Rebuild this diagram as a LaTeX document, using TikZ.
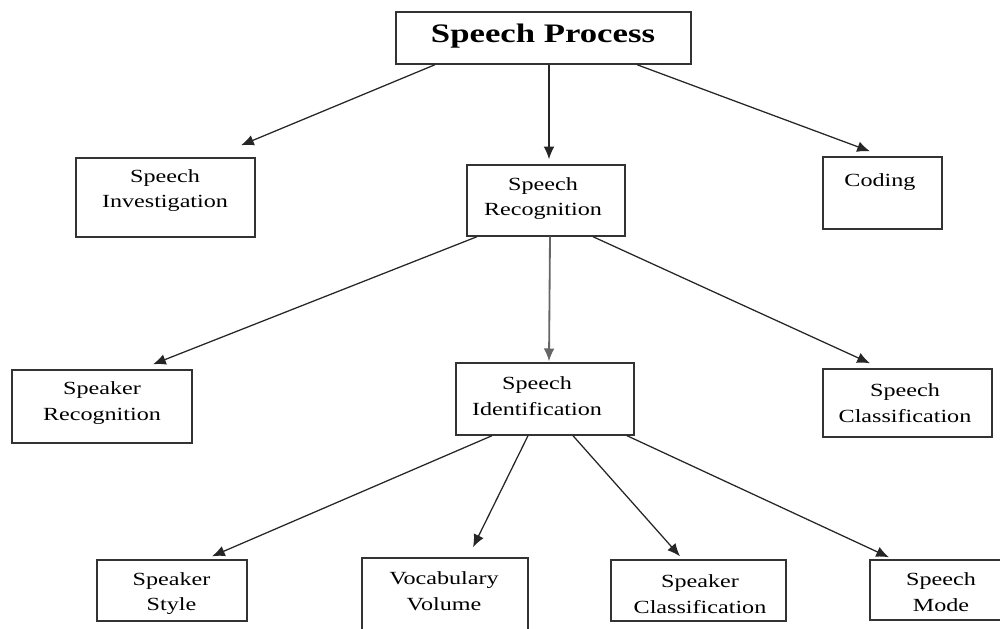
\documentclass[tikz,border=0pt]{standalone}
\usepackage{fontspec}
\setmainfont{Liberation Serif}[FakeStretch=1.3]
\usetikzlibrary{arrows.meta}
\begin{document}
\begin{tikzpicture}
	[box/.style={draw=black!80,line width=1pt},
	 lbl/.style={align=center,inner sep=0pt,font=\fontsize{13.2}{18.3}\selectfont},
	 >={Latex[length=0.32cm,width=0.27cm]}]
	\useasboundingbox (0,0) rectangle (25,-15.7);
	\clip (0,0) rectangle (25,-15.7);
	% boxes
	\node[box,name=proc,minimum width=7.375cm,minimum height=1.3cm] at (13.5875,-0.95) {};
	\node[box,name=inv,minimum width=4.475cm,minimum height=1.975cm] at (4.1375,-4.9375) {};
	\node[box,name=recog,minimum width=3.95cm,minimum height=1.775cm] at (13.65,-5.0125) {};
	\node[box,name=cod,minimum width=2.975cm,minimum height=1.8cm] at (22.0625,-4.825) {};
	\node[box,name=spkr,minimum width=4.5cm,minimum height=1.825cm] at (2.55,-10.1625) {};
	\node[box,name=ident,minimum width=4.45cm,minimum height=1.8cm] at (13.625,-9.975) {};
	\node[box,name=cls,minimum width=4.225cm,minimum height=1.7cm] at (22.6875,-10.075) {};
	\node[box,name=style,minimum width=3.75cm,minimum height=1.525cm] at (4.3,-14.7625) {};
	\node[box,name=vocab,minimum width=4.15cm,minimum height=2cm] at (11.125,-14.95) {};
	\node[box,name=spcls,minimum width=4.375cm,minimum height=1.525cm] at (17.4625,-14.7625) {};
	\node[box,name=mode,minimum width=3.55cm,minimum height=1.5cm] at (23.525,-14.75) {};
	% texts
	\node[lbl,name=proct,font=\fontsize{19}{22}\selectfont\bfseries] at (13.575,-0.9) {Speech Process};
	\node[lbl,name=invt] at (4.125,-4.7625) {Speech\\Investigation};
	\node[lbl,name=recogt] at (13.575,-4.9625) {Speech\\Recognition};
	\node[lbl,name=codt] at (22.0,-4.55) {Coding};
	\node[lbl,name=spkrt] at (2.55,-10.075) {Speaker\\Recognition};
	\node[lbl,name=identt] at (13.425,-9.9) {Speech\\Identification};
	\node[lbl,name=clst] at (22.625,-10.075) {Speech\\Classification};
	\node[lbl,name=stylet] at (4.2875,-14.8375) {Speaker\\Style};
	\node[lbl,name=vocabt] at (11.1,-14.7875) {Vocabulary\\Volume};
	\node[lbl,name=spclst] at (17.5,-14.85) {Speaker\\Classification};
	\node[lbl,name=modet] at (23.525,-14.8) {Speech\\Mode};
	% arrows
	\draw[->,line width=0.9pt,black!85]([xshift=-2.7125cm]proc.south)--([xshift=1.8875cm,yshift=0.3cm]inv.north);
	\draw[->,line width=0.9pt,black!85]([xshift=0.1375cm]proc.south)--([xshift=0.075cm,yshift=0.125cm]recog.north);
	\draw[->,line width=0.9pt,black!85]([xshift=2.3375cm]proc.south)--([xshift=-0.3125cm,yshift=0.125cm]cod.north);
	\draw[->,line width=0.9pt,black!85]([xshift=-1.725cm]recog.south)--([xshift=1.275cm,yshift=0.125cm]spkr.north);
	\draw[->,line width=1.3pt,black!60]([xshift=0.1cm]recog.south)--([xshift=0.1cm,yshift=0.025cm]ident.north);
	\draw[->,line width=0.9pt,black!85]([xshift=1.175cm]recog.south)--([xshift=-0.9375cm,yshift=0.125cm]cls.north);
	\draw[->,line width=0.9pt,black!85]([xshift=-1.325cm]ident.south)--([xshift=1.0cm,yshift=0.075cm]style.north);
	\draw[->,line width=0.9pt,black!85]([xshift=-0.425cm]ident.south)--([xshift=0.7cm,yshift=0.25cm]vocab.north);
	\draw[->,line width=0.9pt,black!85]([xshift=0.7cm]ident.south)--([xshift=-0.4625cm,yshift=0.075cm]spcls.north);
	\draw[->,line width=0.9pt,black!85]([xshift=2.05cm]ident.south)--([xshift=-1.3cm,yshift=0.05cm]mode.north);
\end{tikzpicture}
\end{document}
